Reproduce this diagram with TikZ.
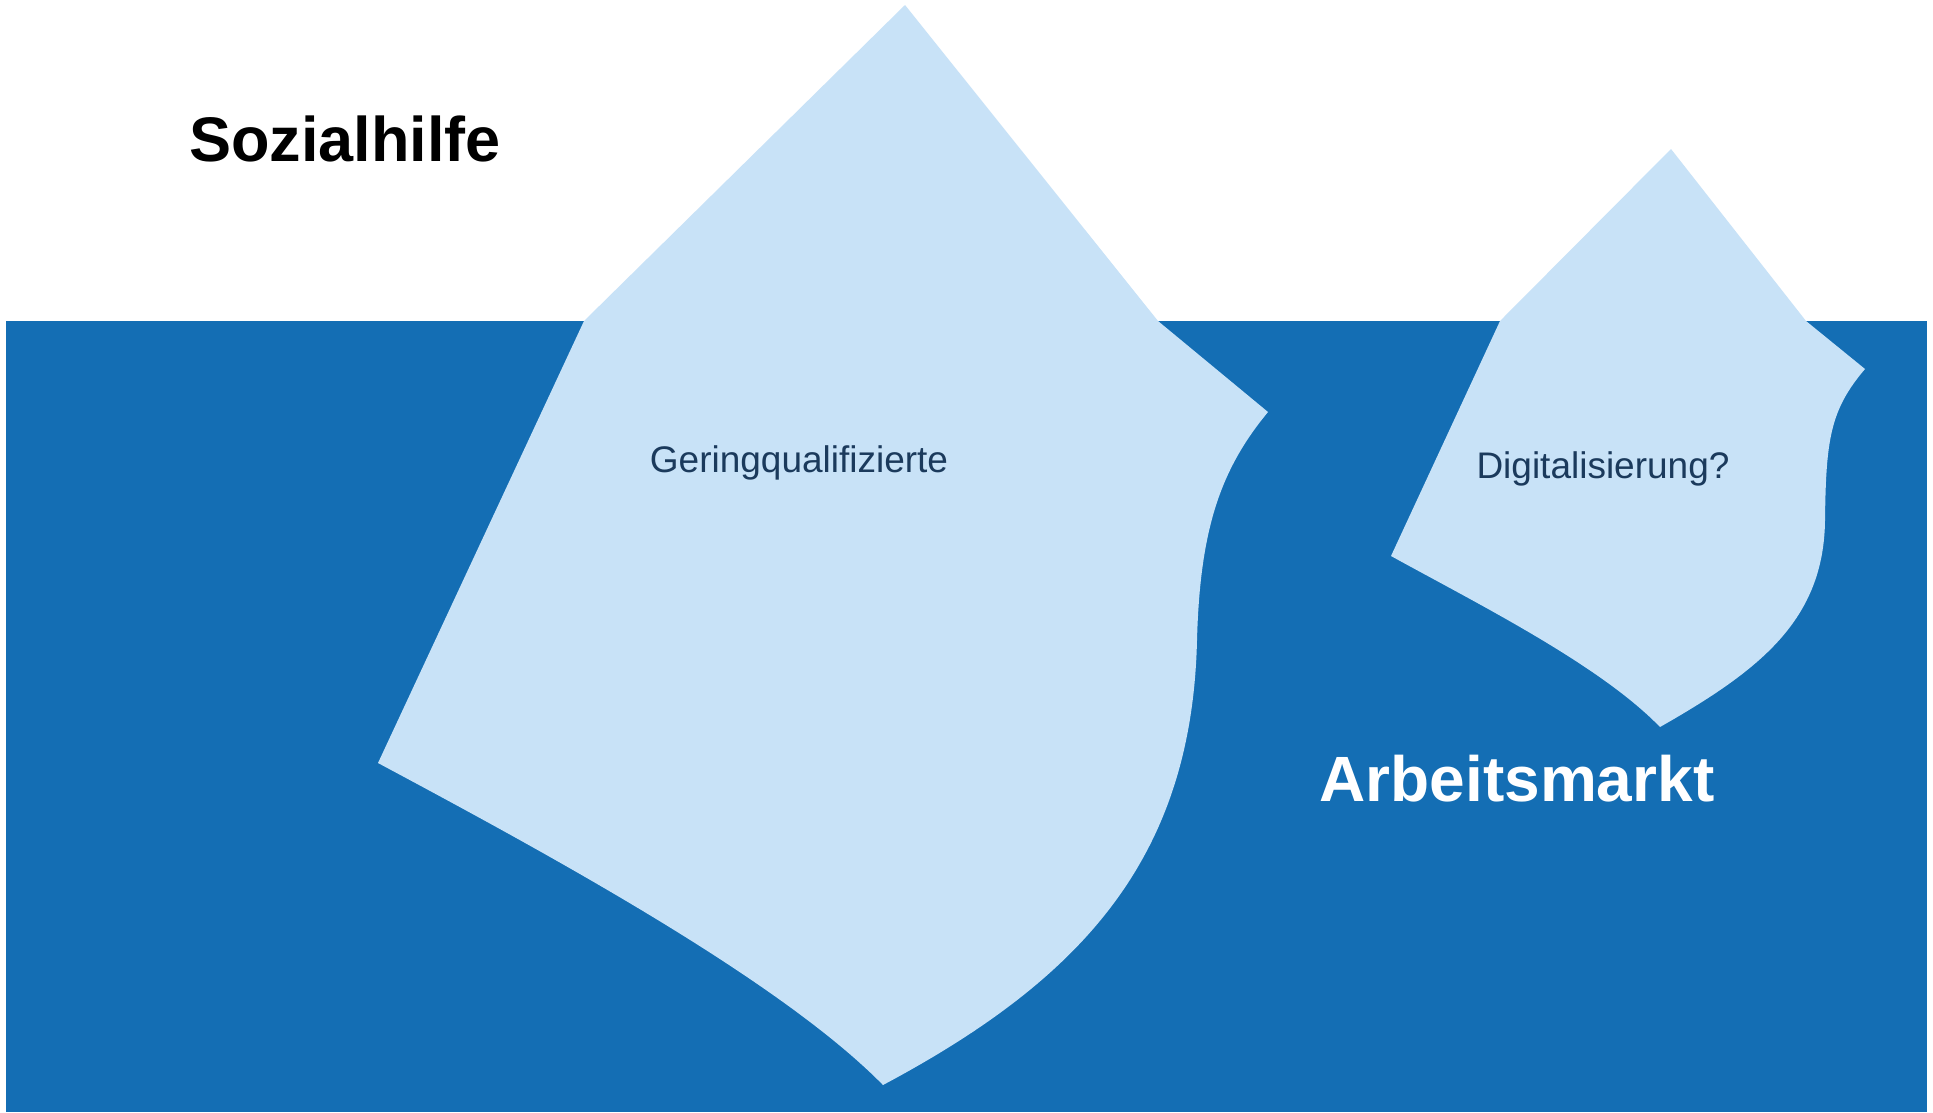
\documentclass[tikz,border=0pt]{standalone}
\usepackage{fontspec}
\setmainfont{Liberation Sans}
\definecolor{water}{HTML}{146EB4}
\definecolor{ice}{HTML}{C8E2F7}
\definecolor{navy}{HTML}{1B3A5C}
\begin{document}
\begin{tikzpicture}[x=1pt,y=-1pt,
  iceberg/.style={fill=ice,draw=none},
  bigtitle/.style={font=\fontsize{63}{70}\selectfont\bfseries,anchor=base,inner sep=0pt},
  bergtext/.style={font=\fontsize{37}{42}\selectfont,text=navy,anchor=base,inner sep=0pt}]
\useasboundingbox (0,0) rectangle (1933,1112);
\fill[white] (0,0) rectangle (1933,1112);
\fill[water] (6,321) rectangle (1927,1112);
% big iceberg
\path[iceberg] (905,5) -- (1158,321) -- (1268,412)
  .. controls (1220,470) and (1200,530) .. (1197,640)
  .. controls (1192,860) and (1080,980) .. (883,1085)
  .. controls (780,980) and (550,855) .. (378,763)
  -- (584,321) -- cycle;
% small iceberg
\path[iceberg] (1671,149) -- (1806,321) -- (1865,369)
  .. controls (1830,410) and (1826,440) .. (1825,520)
  .. controls (1824,620) and (1760,670) .. (1660,727)
  .. controls (1600,665) and (1480,605) .. (1391,556)
  -- (1500,321) -- cycle;
\node[bigtitle,anchor=base west] (sozial) at (189,161) {Sozialhilfe};
\node[bigtitle,text=white,font=\fontsize{64}{70}\selectfont\bfseries] (arbeit) at (1517,801) {Arbeitsmarkt};
\node[bergtext] (gering) at (799,472) {Geringqualifizierte};
\node[bergtext] (digital) at (1603,478) {Digitalisierung?};
\end{tikzpicture}
\end{document}
